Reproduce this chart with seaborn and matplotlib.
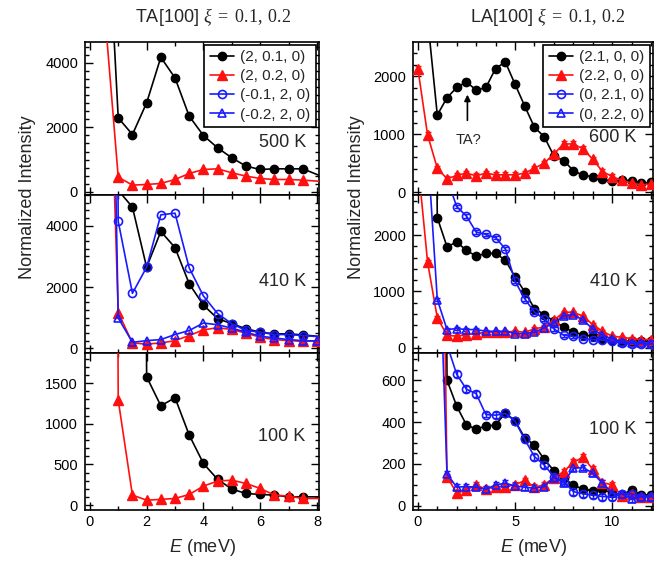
import numpy as np
import pandas as pd
import matplotlib
matplotlib.use("Agg")
import matplotlib.pyplot as plt
import seaborn as sns
from matplotlib.lines import Line2D
from matplotlib.ticker import MultipleLocator

sns.set_style("ticks")
plt.rcParams["font.family"] = ["Liberation Sans", "DejaVu Sans"]
plt.rcParams["mathtext.fontset"] = "custom"
plt.rcParams["mathtext.rm"] = "Liberation Serif"
plt.rcParams["mathtext.it"] = "Liberation Serif:italic"
plt.rcParams["mathtext.sf"] = "Liberation Sans:italic"

nan = np.nan

# ---------------- TA[100] data (left column) ----------------
E_TA = [0.5, 1.0, 1.5, 2.0, 2.5, 3.0, 3.5, 4.0, 4.5, 5.0, 5.5, 6.0, 6.5, 7.0, 7.5, 8.0, 8.5]

ta500_black = [10700, 2295, 1778, 2760, 4176, 3535, 2346, 1747, 1364, 1054, 796, 692, 713, 713, 713, nan, 360]
ta500_red = [5835, 455, 207, 227, 258, 382, 568, 692, 713, 589, 486, 413, 382, 382, 362, nan, 300]

ta410_black = [nan, 5150, 4606, 2645, 3813, 3284, 2105, 1410, 970, 804, 639, 529, 474, 474, 441, nan, 350]
ta410_red = [15900, 1168, 176, 143, 176, 253, 419, 606, 672, 617, 496, 364, 287, 253, 231, 253, nan]
ta410_bcirc = [60000, 4143, 1796, 2645, 4353, 4408, 2623, 1708, 1135, 804, 584, 529, 452, 452, 419, nan, 353]
ta410_btri = [26000, 992, 198, 253, 287, 452, 584, 826, 771, 661, 529, 397, 342, 287, 253, 240, nan]

ta100_black = [nan, nan, 40000, 1578, 1221, 1320, 861, 512, 316, 197, 143, 131, 123, 102, 102, nan, 100]
ta100_red = [40000, 1291, 123, 61, 70, 82, 131, 234, 295, 307, 266, 205, 123, 111, 82, nan, 82]

# ---------------- LA[100] data (right column) ----------------
E_LA = [0.0, 0.5, 1.0, 1.5, 2.0, 2.5, 3.0, 3.5, 4.0, 4.5, 5.0, 5.5, 6.0,
        6.5, 7.0, 7.5, 8.0, 8.5, 9.0, 9.5, 10.0, 10.5, 11.0, 11.5, 12.0]

la600_black = [nan, 3000, 1330, 1628, 1805, 1903, 1759, 1805, 2132, 2246, 1862, 1484, 1117,
               957, 625, 544, 372, 287, 269, 224, 183, 212, 195, 155, 166]
la600_red = [2132, 986, 413, 229, 287, 327, 281, 327, 298, 298, 298, 327, 413,
             499, 659, 831, 831, 745, 567, 355, 269, 201, 155, 126, 138]

la410_black = [nan, 20000, 2308, 1793, 1876, 1728, 1627, 1675, 1675, 1556, 1260, 994, 698,
               592, 473, 373, 278, 237, 207, 160, 136, 118, 118, 118, 118]
la410_red = [3300, 1521, 533, 225, 207, 237, 254, 278, 278, 278, 296, 278, 337,
             373, 491, 633, 633, 562, 414, 296, 207, 189, 166, 148, 148]
la410_bcirc = [nan, nan, nan, 3000, 2503, 2337, 2053, 2012, 1953, 1757, 1183, 870, 633,
               515, 337, 225, 207, 166, 148, 136, 118, 89, 77, 77, 71]
la410_btri = [nan, 3550, 858, 325, 343, 325, 325, 296, 296, 296, 254, 254, 278,
              355, 444, 562, 592, 491, 337, 225, 160, 107, 89, 89, 71]

la100_black = [nan, nan, 8000, 600, 476, 386, 367, 381, 386, 444, 406, 325, 290,
               222, 168, 132, 100, 79, 73, 79, 60, 52, 76, 52, 52]
la100_red = [nan, nan, 3400, 140, 60, 76, 100, 79, 92, 92, 100, 121, 89,
             100, 135, 163, 208, 232, 175, 111, 100, 48, 57, 44, 44]
la100_bcirc = [nan, nan, nan, 770, 628, 557, 536, 436, 433, 441, 405, 317, 235,
               195, 140, 116, 68, 57, 52, 44, 44, 57, 57, 44, 44]
la100_btri = [nan, nan, 1530, 152, 89, 92, 89, 79, 100, 108, 95, 89, 84,
              92, 135, 111, 179, 183, 156, 108, 60, 57, 32, 44, 44]

# typical error-bar half-heights
la_err = {"600 K": 45, "410 K": 30, "100 K": 14}

TA_labels = ["(2, 0.1, 0)", "(2, 0.2, 0)", "(-0.1, 2, 0)", "(-0.2, 2, 0)"]
LA_labels = ["(2.1, 0, 0)", "(2.2, 0, 0)", "(0, 2.1, 0)", "(0, 2.2, 0)"]

STYLES = {
    "black": dict(color="black", marker="o", markersize=6, markerfacecolor="black",
                  markeredgecolor="black", markeredgewidth=1.0),
    "red": dict(color="#ff1010", marker="^", markersize=6.5, markerfacecolor="#ff1010",
                markeredgecolor="#ff1010", markeredgewidth=1.0),
    "bcirc": dict(color="#1a1aff", marker="o", markersize=5.8, markerfacecolor="none",
                  markeredgecolor="#1a1aff", markeredgewidth=1.2),
    "btri": dict(color="#1a1aff", marker="^", markersize=6.2, markerfacecolor="none",
                 markeredgecolor="#1a1aff", markeredgewidth=1.2),
}

fig = plt.figure(figsize=(6.59, 5.62), dpi=100)

W, H = 659.0, 562.0
def pos(x0, x1, y0, y1):
    return [x0 / W, 1 - y1 / H, (x1 - x0) / W, (y1 - y0) / H]

rows = [(42, 195), (195, 353), (353, 510)]
left_axes = [fig.add_axes(pos(85, 319, *r)) for r in rows]
right_axes = [fig.add_axes(pos(413, 653, *r)) for r in rows]


def draw(ax, E, ys, key, err=None):
    df = pd.DataFrame({"E": E, "I": ys}).dropna()
    st = STYLES[key]
    if err is not None:
        ax.errorbar(df["E"], df["I"], yerr=err, fmt="none", ecolor=st["color"],
                    elinewidth=1.0, capsize=2.2, capthick=1.0, zorder=2)
    sns.lineplot(data=df, x="E", y="I", ax=ax, estimator=None, sort=False,
                 linewidth=1.2, zorder=3, **st)


left_data = [
    ("500 K", [("black", ta500_black), ("red", ta500_red)]),
    ("410 K", [("black", ta410_black), ("red", ta410_red), ("bcirc", ta410_bcirc), ("btri", ta410_btri)]),
    ("100 K", [("black", ta100_black), ("red", ta100_red)]),
]
right_data = [
    ("600 K", [("black", la600_black), ("red", la600_red)]),
    ("410 K", [("black", la410_black), ("red", la410_red), ("bcirc", la410_bcirc), ("btri", la410_btri)]),
    ("100 K", [("black", la100_black), ("red", la100_red), ("bcirc", la100_bcirc), ("btri", la100_btri)]),
]

left_ylims = [(-100, 4650), (-150, 5000), (-60, 1870)]
left_yticks = [[0, 2000, 4000], [0, 2000, 4000], [0, 500, 1000, 1500]]
left_yminor = [250, 250, 100]
right_ylims = [(-50, 2590), (-90, 2710), (-20, 730)]
right_yticks = [[0, 1000, 2000], [0, 1000, 2000], [0, 200, 400, 600]]
right_yminor = [200, 200, 50]

left_tpos = [(0.846, 0.34), (0.846, 0.45), (0.84, 0.465)]
right_tpos = [(0.833, 0.373), (0.837, 0.45), (0.83, 0.51)]


def style_axis(ax, xlim, xmaj, xmin, ylim, yticks, ymin, bottom):
    ax.set_xlim(*xlim)
    ax.set_ylim(*ylim)
    ax.xaxis.set_major_locator(MultipleLocator(xmaj))
    ax.xaxis.set_minor_locator(MultipleLocator(xmin))
    ax.set_yticks(yticks)
    ax.yaxis.set_minor_locator(MultipleLocator(ymin))
    ax.tick_params(which="both", direction="in", top=True, right=True, width=1.0, colors="black")
    ax.tick_params(which="major", length=5.5, labelsize=10.5)
    ax.tick_params(axis="y", which="major", pad=5)
    ax.tick_params(which="minor", length=3)
    for sp in ax.spines.values():
        sp.set_linewidth(1.2)
        sp.set_color("black")
    ax.set_ylabel("")
    if bottom:
        ax.set_xlabel(r"$\mathsf{E}$ (meV)", fontsize=13, labelpad=6)
    else:
        ax.set_xlabel("")
        ax.tick_params(labelbottom=False)


for i, ax in enumerate(left_axes):
    temp, series = left_data[i]
    for key, ys in series:
        draw(ax, E_TA, ys, key)
    style_axis(ax, (-0.17, 8.07), 2, 1, left_ylims[i], left_yticks[i], left_yminor[i], i == 2)
    ax.text(*left_tpos[i], temp, transform=ax.transAxes, ha="center", va="center", fontsize=13)

for i, ax in enumerate(right_axes):
    temp, series = right_data[i]
    for key, ys in series:
        draw(ax, E_LA, ys, key, err=la_err[temp])
    style_axis(ax, (-0.25, 12.1), 5, 1, right_ylims[i], right_yticks[i], right_yminor[i], i == 2)
    ax.text(*right_tpos[i], temp, transform=ax.transAxes, ha="center", va="center", fontsize=13)


def add_legend(ax, labels):
    keys = ["black", "red", "bcirc", "btri"]
    handles = [Line2D([], [], linewidth=1.2, **STYLES[k]) for k in keys]
    leg = ax.legend(handles, labels, loc="upper right", fontsize=11, frameon=True,
                    fancybox=False, edgecolor="black", framealpha=1, borderaxespad=0.2,
                    handlelength=1.6, labelspacing=0.33, borderpad=0.35, handletextpad=0.4)
    leg.get_frame().set_linewidth(1.2)


add_legend(left_axes[0], TA_labels)
add_legend(right_axes[0], LA_labels)

# TA? annotation
ax = right_axes[0]
ax.annotate("", xy=(2.55, 1730), xytext=(2.55, 1190),
            arrowprops=dict(arrowstyle="-|>", color="black", lw=1.2, mutation_scale=9))
ax.text(2.6, 900, "TA?", ha="center", va="center", fontsize=10.5)

fig.text(27 / W, 1 - 197 / H, "Normalized Intensity", rotation=90, ha="center", va="center", fontsize=13)
fig.text(357 / W, 1 - 197 / H, "Normalized Intensity", rotation=90, ha="center", va="center", fontsize=13)

title_math = r"$\xi\ =\ 0.1,\;0.2$"
fig.text(213 / W, 1 - 17 / H, "TA[100] " + title_math, ha="center", va="center", fontsize=13)
fig.text(548 / W, 1 - 17 / H, "LA[100] " + title_math, ha="center", va="center", fontsize=13)

fig.savefig("out.png", dpi=100)
